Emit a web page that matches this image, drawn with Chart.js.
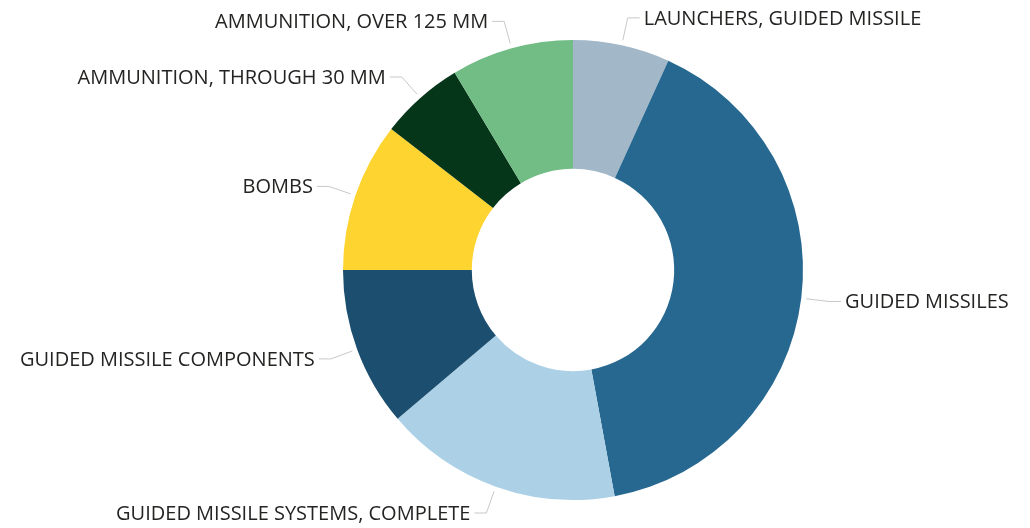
<!DOCTYPE html>
<html>
<head>
<meta charset="utf-8">
<script src="https://cdn.jsdelivr.net/npm/chart.js@4/dist/chart.umd.min.js"></script>
<style>
    html, body { margin: 0; padding: 0; background: #ffffff; }
    #wrap { width: 1030px; height: 528px; }
</style>
</head>
<body>
<div id="wrap"><canvas id="donutChart"></canvas></div>
<script>
// Categories and their shares, clockwise from 12 o'clock
const categories = [
    'LAUNCHERS, GUIDED MISSILE',
    'GUIDED MISSILES',
    'GUIDED MISSILE SYSTEMS, COMPLETE',
    'GUIDED MISSILE COMPONENTS',
    'BOMBS',
    'AMMUNITION, THROUGH 30 MM',
    'AMMUNITION, OVER 125 MM'
];
const shares = [6.8, 40.3, 16.7, 11.2, 10.5, 5.9, 8.6];
const sliceColors = ['#a2b8c8', '#276891', '#acd1e7', '#1b4e6f', '#fed430', '#063619', '#71bd85'];

// Draws the outside labels with bent leader lines
const leaderLabels = {
    id: 'leaderLabels',
    afterDraw(chart) {
        const ctx = chart.ctx;
        const meta = chart.getDatasetMeta(0);
        ctx.save();
        ctx.font = '20px "Open Sans", sans-serif';
        ctx.textBaseline = 'middle';
        meta.data.forEach(function (arc, i) {
            const p = arc.getProps(['x', 'y', 'startAngle', 'endAngle', 'outerRadius'], true);
            const mid = (p.startAngle + p.endAngle) / 2;
            const cos = Math.cos(mid), sin = Math.sin(mid);
            const x0 = p.x + cos * (p.outerRadius + 5);
            const y0 = p.y + sin * (p.outerRadius + 5);
            const x1 = p.x + cos * (p.outerRadius + 28);
            const y1 = p.y + sin * (p.outerRadius + 28);
            const right = cos >= 0;
            const x2 = x1 + (right ? 12 : -12);

            ctx.strokeStyle = '#c8c8c8';
            ctx.lineWidth = 1;
            ctx.beginPath();
            ctx.moveTo(x0, y0);
            ctx.lineTo(x1, y1);
            ctx.lineTo(x2, y1);
            ctx.stroke();

            ctx.fillStyle = '#252423';
            ctx.textAlign = right ? 'left' : 'right';
            ctx.fillText(categories[i], x2 + (right ? 4 : -4), y1 + 1);
        });
        ctx.restore();
    }
};

const donutCtx = document.getElementById('donutChart').getContext('2d');
const donutChart = new Chart(donutCtx, {
    type: 'doughnut',
    data: {
        labels: categories,
        datasets: [{
            data: shares,
            backgroundColor: sliceColors,
            borderWidth: 0
        }]
    },
    options: {
        responsive: true,
        maintainAspectRatio: false,
        animation: false,
        cutout: '44%',
        layout: {
            padding: { top: 40, bottom: 28, left: 343, right: 227 }
        },
        plugins: {
            legend: { display: false },
            tooltip: { enabled: false }
        }
    },
    plugins: [leaderLabels]
});
</script>
</body>
</html>
